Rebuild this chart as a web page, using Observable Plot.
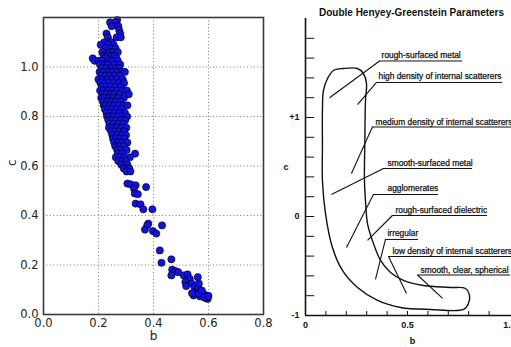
<!DOCTYPE html>
<html><head><meta charset="utf-8">
<script src="https://cdn.jsdelivr.net/npm/d3@7"></script>
<script src="https://cdn.jsdelivr.net/npm/@observablehq/plot@0.6"></script>
<style>
html,body{margin:0;padding:0;background:#fff;}
#wrap{position:relative;width:511px;height:347px;overflow:hidden;background:#fff;}
#left{position:absolute;left:0;top:0;}
#right{position:absolute;left:270px;top:0;}
</style></head><body>
<div id="wrap"><div id="left"></div><div id="right"></div></div>
<script>
// ---------- LEFT PANEL DATA (b vs c scatter) ----------
const xTicksL = [0, 0.2, 0.4, 0.6, 0.8];
const yTicksL = [0, 0.2, 0.4, 0.6, 0.8, 1.0];
const gridB = [0.2, 0.4, 0.6];
const gridC = [0.2, 0.4, 0.6, 0.8, 1.0];

// dense cluster, read row by row (c value, then the b values seen on that row)
const clusterRowC = [1.19, 1.18, 1.165, 1.15, 1.135, 1.12, 1.10, 1.09, 1.075, 1.06, 1.045, 1.035, 1.025, 1.01, 0.995, 0.98, 0.965, 0.95, 0.935, 0.92, 0.905, 0.89, 0.875, 0.86, 0.845, 0.83, 0.815, 0.80, 0.785, 0.77, 0.755, 0.74, 0.725, 0.71, 0.695, 0.68, 0.665, 0.65, 0.635, 0.62, 0.605, 0.59, 0.578];
const clusterRowB = [
  [0.268],
  [0.242, 0.262],
  [0.248, 0.272],
  [0.275],
  [0.229, 0.279],
  [0.234, 0.266, 0.281],
  [0.221, 0.238, 0.247],
  [0.208, 0.236, 0.255],
  [0.224, 0.244, 0.262],
  [0.214, 0.241, 0.253, 0.27],
  [0.219, 0.232, 0.248, 0.258],
  [0.179, 0.226, 0.265],
  [0.186, 0.2, 0.213, 0.24, 0.252, 0.27],
  [0.205, 0.222, 0.235, 0.258, 0.279],
  [0.212, 0.229, 0.246, 0.263, 0.275],
  [0.204, 0.218, 0.237, 0.25, 0.268, 0.285, 0.296],
  [0.209, 0.226, 0.241, 0.259, 0.277],
  [0.2, 0.215, 0.232, 0.248, 0.266, 0.288],
  [0.207, 0.221, 0.238, 0.255, 0.272, 0.293],
  [0.212, 0.228, 0.244, 0.262, 0.28],
  [0.206, 0.218, 0.235, 0.251, 0.268, 0.287, 0.303],
  [0.214, 0.229, 0.245, 0.259, 0.276, 0.31],
  [0.21, 0.222, 0.238, 0.254, 0.27, 0.292],
  [0.216, 0.232, 0.247, 0.263, 0.281],
  [0.219, 0.226, 0.241, 0.258, 0.274, 0.29, 0.305],
  [0.223, 0.236, 0.25, 0.267, 0.284],
  [0.229, 0.244, 0.26, 0.277, 0.296],
  [0.231, 0.24, 0.254, 0.27, 0.288, 0.304],
  [0.236, 0.249, 0.264, 0.281, 0.297],
  [0.24, 0.256, 0.272, 0.29],
  [0.238, 0.252, 0.266, 0.284, 0.301],
  [0.246, 0.26, 0.276, 0.293],
  [0.25, 0.268, 0.285, 0.3],
  [0.253, 0.264, 0.279, 0.294],
  [0.257, 0.272, 0.288, 0.305],
  [0.261, 0.276, 0.291],
  [0.268, 0.283, 0.302],
  [0.27, 0.287, 0.333],
  [0.263, 0.279, 0.294, 0.314],
  [0.272, 0.287, 0.3],
  [0.283, 0.296, 0.305],
  [0.292, 0.305, 0.312],
  [0.302, 0.316]
];
// sparse tail
const tailB = [0.373, 0.305, 0.317, 0.335, 0.329, 0.332, 0.343, 0.335, 0.353, 0.363, 0.396, 0.381, 0.377, 0.369, 0.398, 0.41, 0.431, 0.423, 0.429, 0.465, 0.468, 0.48, 0.49, 0.465, 0.51, 0.524, 0.532, 0.516, 0.519, 0.561, 0.54, 0.549, 0.558, 0.564, 0.57, 0.552, 0.546, 0.576, 0.582, 0.592, 0.595, 0.597, 0.589, 0.57, 0.564, 0.54, 0.576, 0.565, 0.585, 0.6];
const tailC = [0.515, 0.529, 0.526, 0.522, 0.509, 0.489, 0.486, 0.448, 0.445, 0.425, 0.425, 0.367, 0.36, 0.343, 0.337, 0.327, 0.36, 0.259, 0.209, 0.223, 0.181, 0.175, 0.171, 0.158, 0.158, 0.162, 0.144, 0.131, 0.115, 0.151, 0.124, 0.111, 0.097, 0.104, 0.09, 0.084, 0.077, 0.086, 0.081, 0.077, 0.07, 0.063, 0.067, 0.073, 0.084, 0.086, 0.097, 0.125, 0.07, 0.075];

// ---------- RIGHT PANEL DATA (Double Henyey-Greenstein diagram) ----------
const titleR = "Double Henyey-Greenstein Parameters";
const xTicksR = [0, 0.5, 1];
const xTickLabelsR = ["0", "0.5", "1.0"];
const yTicksR = [-1, 0, 1];
const yTickLabelsR = ["-1", "0", "+1"];
const bMinor = [0.1, 0.2, 0.3, 0.4, 0.5, 0.6, 0.7, 0.8, 0.9];
const cMinor = [-0.8, -0.6, -0.4, -0.2, 0, 0.2, 0.4, 0.6, 0.8, 1.0, 1.2, 1.4, 1.6, 1.8];

const outlineB = [0.186, 0.255, 0.284, 0.299, 0.294, 0.291, 0.289, 0.294, 0.304, 0.328, 0.368, 0.417, 0.480, 0.578, 0.711, 0.784, 0.804, 0.799, 0.775, 0.613, 0.466, 0.353, 0.255, 0.181, 0.132, 0.098, 0.083, 0.083, 0.083, 0.088, 0.108, 0.137];
const outlineC = [1.495, 1.495, 1.444, 1.343, 1.172, 0.77, 0.364, 0.162, -0.071, -0.242, -0.444, -0.566, -0.646, -0.697, -0.717, -0.727, -0.798, -0.879, -0.939, -0.939, -0.919, -0.848, -0.717, -0.545, -0.313, 0.030, 0.364, 0.72, 1.071, 1.273, 1.394, 1.475];

const labelText = ["rough-surfaced metal", "high density of internal scatterers", "medium density of internal scatterers", "smooth-surfaced metal", "agglomerates", "rough-surfaced dielectric", "irregular", "low density of internal scatterers", "smooth, clear, spherical"];
const labelB = [0.373, 0.358, 0.343, 0.402, 0.402, 0.441, 0.402, 0.426, 0.564];
const labelC = [1.601, 1.384, 0.929, 0.510, 0.253, 0.040, -0.202, -0.379, -0.566];
const underB1 = [0.363, 0.348, 0.328, 0.382, 0.333, 0.426, 0.392, 0.407, 0.549];
const underB2 = [0.770, 0.966, 1.01, 0.819, 0.652, 0.892, 0.554, 1.01, 1.005];
const underC = [1.571, 1.354, 0.904, 0.485, 0.222, 0.010, -0.232, -0.404, -0.591];
const leaderB = [0.118, 0.255, 0.225, 0.127, 0.201, 0.304, 0.343, 0.495, 0.672];
const leaderC = [1.199, 1.131, 0.434, 0.222, -0.313, -0.242, -0.636, -0.778, -0.828];

// ---------- build tables ----------
const points = [];
clusterRowC.forEach((c, i) => clusterRowB[i].forEach(b => points.push({b, c})));
tailB.forEach((b, i) => points.push({b, c: tailC[i]}));
const outline = outlineB.map((b, i) => ({b, c: outlineC[i]}));
const labels = labelText.map((t, i) => ({t, tb: labelB[i], tc: labelC[i], u1: underB1[i], u2: underB2[i], uc: underC[i], lb: leaderB[i], lc: leaderC[i]}));

const fmt1 = d3.format(".1f");
const grid = {stroke: "#555", strokeOpacity: 1, strokeWidth: 0.8, strokeDasharray: "1,2.4"};

const left = Plot.plot({
  width: 270, height: 347,
  marginLeft: 43, marginRight: 7, marginTop: 17, marginBottom: 33,
  x: {domain: [0, 0.8]}, y: {domain: [0, 1.2]},
  style: {fontFamily: "DejaVu Sans, sans-serif", fontSize: "11.5px", color: "#222", background: "transparent", overflow: "visible"},
  marks: [
    Plot.gridX(gridB, grid),
    Plot.gridY(gridC, grid),
    Plot.dot(points, {x: "b", y: "c", r: 3.6, fill: "#1212e8", stroke: "#000", strokeWidth: 0.6}),
    Plot.frame({stroke: "#3a3a3a", strokeWidth: 1.6}),
    Plot.axisX(xTicksL, {tickSize: 0, tickPadding: 4, tickFormat: fmt1, label: null}),
    Plot.axisY(yTicksL, {tickSize: 0, tickPadding: 5, tickFormat: fmt1, label: null}),
    Plot.text(["c"], {text: d => d, frameAnchor: "left", dx: -31, rotate: -90, fontSize: 12}),
    Plot.text(["b"], {text: d => d, frameAnchor: "bottom", lineAnchor: "middle", dy: 22, fontSize: 12})
  ]
});

const ink = "#111";
const right = Plot.plot({
  width: 241, height: 347,
  marginLeft: 35, marginRight: 2, marginTop: 18, marginBottom: 32,
  x: {domain: [0, 1]}, y: {domain: [-1, 2]},
  style: {fontFamily: "Liberation Sans, Arial, sans-serif", fontSize: "9px", color: ink, background: "transparent", overflow: "visible"},
  marks: [
    Plot.axisX(xTicksR, {tickSize: 0, tickPadding: 6, tickFormat: d => xTickLabelsR[xTicksR.indexOf(d)], fontWeight: "bold", label: null}),
    Plot.axisY(yTicksR, {tickSize: 0, tickPadding: 6, tickFormat: d => yTickLabelsR[yTicksR.indexOf(d)], fontWeight: "bold", label: null}),
    Plot.ruleY(cMinor, {x1: 0, x2: 0.045, stroke: ink, strokeWidth: 1}),
    Plot.ruleX(bMinor, {y1: -1, y2: -0.96, stroke: ink, strokeWidth: 1}),
    Plot.ruleX([0], {y1: -1, y2: 2, stroke: ink, strokeWidth: 1.6}),
    Plot.ruleY([-1], {x1: 0, x2: 1.02, stroke: ink, strokeWidth: 1.6}),
    Plot.line(outline, {x: "b", y: "c", curve: "catmull-rom-closed", stroke: ink, strokeWidth: 1.4}),
    Plot.link(labels, {x1: "u1", y1: "uc", x2: "lb", y2: "lc", stroke: ink, strokeWidth: 1.1}),
    Plot.ruleY(labels, {y: "uc", x1: "u1", x2: "u2", stroke: ink, strokeWidth: 1}),
    Plot.text(labels, {x: "tb", y: "tc", text: "t", textAnchor: "start", lineAnchor: "bottom", fontSize: 8.4, fill: ink, stroke: ink, strokeWidth: 0.25}),
    Plot.text([titleR], {text: d => d, frameAnchor: "top", lineAnchor: "middle", dx: 4, dy: -6, fontWeight: "bold", fontSize: 10}),
    Plot.text(["c"], {text: d => d, frameAnchor: "left", dx: -22, fontWeight: "bold", fontSize: 9}),
    Plot.text(["b"], {text: d => d, frameAnchor: "bottom", lineAnchor: "middle", dx: 5, dy: 26, fontWeight: "bold", fontSize: 9})
  ]
});

document.getElementById("left").appendChild(left);
document.getElementById("right").appendChild(right);
</script>
</body></html>
